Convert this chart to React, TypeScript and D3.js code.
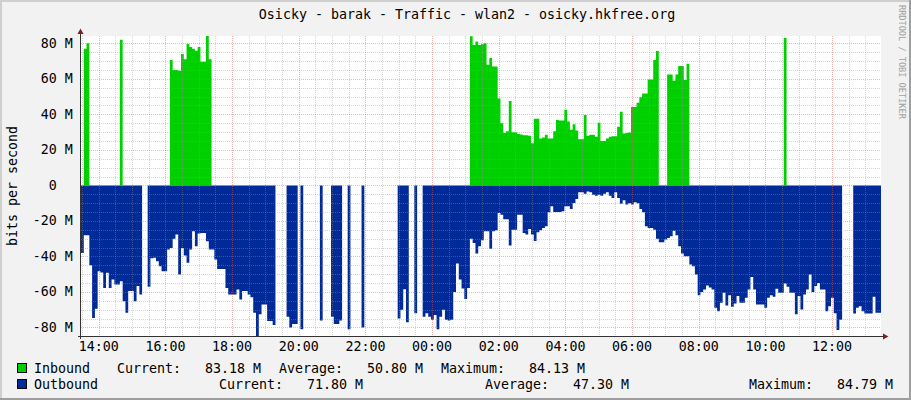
import React from "react";
import * as d3 from "d3";

// 5 minute samples, 24 h window starting 13:28
const startTime = new Date(2000, 0, 1, 13, 28);
const stepMinutes = 5;
const _ = null;

// Inbound, Mbit/s (one row = 1 hour)
const inbound: (number | null)[] = [
  _, 77, 80, _, _, _, _, _, _, _, _, _,
  _, _, 82, _, _, _, _, _, _, _, _, _,
  _, _, _, _, _, _, _, _, 70.6, 65, 65, 64.5,
  74, 71, 79.6, 78, 77, 75.8, 78, 69.7, 69.7, 84.1, 71, _,
  _, _, _, _, _, _, _, _, _, _, _, _,
  _, _, _, _, _, _, _, _, _, _, _, _,
  _, _, _, _, _, _, _, _, _, _, _, _,
  _, _, _, _, _, _, _, _, _, _, _, _,
  _, _, _, _, _, _, _, _, _, _, _, _,
  _, _, _, _, _, _, _, _, _, _, _, _,
  _, _, _, _, _, _, _, _, _, _, _, _,
  _, _, _, _, _, _, _, _, 84, 79, 81, 79,
  79.5, 80, 68, 71.7, 67, 67, 49, 35, 29.5, 30.5, 47.5, 30,
  30, 29, 28.6, 28.2, 28.2, 28, 23.7, 37.6, 37.6, 26.4, 27, 28.5,
  26.4, 26.4, 30.5, 36.9, 36.5, 36.5, 42.6, 36, 31.3, 34.5, 30.9, 26,
  26, 39.6, 28, 28.5, 28.5, 27.4, 35.3, 25, 25, 26.4, 27.4, 27.7,
  27.7, 33, 41.5, 29.3, 29.5, 29.8, 44.2, 44.2, 46.5, 49.6, 51.7, 51.7,
  59.7, 59.7, 70.6, 75.7, _, _, _, 62.4, 62.4, 59, 62.4, 67.2,
  67.2, 59.3, 68.5, _, _, _, _, _, _, _, _, _,
  _, _, _, _, _, _, _, _, _, _, _, _,
  _, _, _, _, _, _, _, _, _, _, _, _,
  _, 83, _, _, _, _, _, _, _, _, _, _,
  _, _, _, _, _, _, _, _, _, _, _, _,
  _, _, _, _, _, _, _, _, _, _, _, _,
];

// Outbound, Mbit/s (drawn below zero)
const outbound: (number | null)[] = [
  38, 28, 28, 45, 74.6, 69.5, 48.3, 49, 57.7, 49.2, 57.7, 53,
  55.8, 55.8, 54, 65.2, 71.7, 59.5, 59.5, 65.2, 56.7, 61.4, _, _,
  57, 41, 40.8, 42.7, 45.5, 48.3, 48.3, 36.1, 35.2, 30.1, 27.7, 50.2,
  35.2, 39.5, 43.6, 36.1, 25.8, 34.3, 27.1, 26.8, 26.8, 31.4, 36.1, 36.1,
  41.7, 47, 47, 47, 57.7, 61.4, 61.4, 61.4, 58.6, 64.2, 59.5, 59.5,
  61.4, 63, 71.7, 84.8, 72.6, 67, 67, 76.4, 76.4, 78.6, _, _,
  _, _, 74, 80, 78, 78, _, 81, _, _, _, _,
  _, _, 76, _, _, _, 74, 78, 78, 76, _, _,
  81, _, _, _, _, 80, _, _, _, _, _, _,
  _, _, _, _, _, _, 75, 70, 58.5, 77, _, _,
  72, _, _, 74, 72, 74, 75.6, 73, 81, 74, 70, 75.6,
  76, 75.6, 60, 44, 53, 58, 64, 57.7, 30.1, 32.4, 38.4, 34.3,
  30.9, 25.8, 25.8, 35.7, 25.8, 25.3, 15.5, 16.5, 19, 19, 33.9, 24.9,
  24.9, 16.5, 16.5, 26.8, 27.7, 24.5, 27.7, 31.3, 26.4, 25.3, 24, 23,
  15.1, 11.8, 14.9, 14.9, 14.9, 14.6, 11.8, 11.8, 13.3, 9.9, 7.7, 3.9,
  3.9, 4.7, 3.4, 3.9, 5.2, 5.8, 5.2, 5.8, 4.7, 3.9, 5.8, 7.1,
  3.9, 7.1, 10.3, 8.4, 10.8, 10, 10.8, 9.5, 10, 13.3, 15.1, 23,
  24, 24, 25, 30, 32, 32, 30.5, 29.6, 28.6, 25.5, 28, 34.3,
  38.4, 39.9, 39.9, 44.5, 45.5, 50.2, 61.9, 60, 58.6, 56.4, 57.5, 58.6,
  68.9, 70.8, 66.1, 60.5, 67.6, 61.9, 68.3, 66.5, 62.3, 66, 66.1, 63.3,
  58.6, 51.5, 58.6, 67, 67, 67, 68.9, 63.3, 61.9, 62.7, 58.2, 60.5,
  60.5, 55.2, 57.1, 60.5, 60.5, 72.6, 62.3, 69.8, 61.4, 58.6, 50.2, 60,
  56.7, 54.9, 58.6, 58.6, 70.8, 68, 63.3, 72, 81.4, 75.6, _, _,
  _, _, 72.1, 68.9, 68, 70.8, 72.1, 72.1, 72.1, 62.7, 71.7, 71.7,
];

const yDomain = [-84.79, 84.13];
const yMajorTicks = [-80, -60, -40, -20, 0, 20, 40, 60, 80];

const title = "Osicky - barak - Traffic - wlan2 - osicky.hkfree.org";
const legendNames = ["Inbound", "Outbound"];
const legendColors = ["#00CF00", "#002A97"];
const legendCurrent = ["83.18 M", "71.80 M"];
const legendAverage = ["50.80 M", "47.30 M"];
const legendMaximum = ["84.13 M", "84.79 M"];

type Pt = { t: Date; v: number | null };

// each sample becomes a flat step, nulls break the area
function toSteps(values: (number | null)[]): Pt[] {
  const pts: Pt[] = [];
  values.forEach((v, i) => {
    const t0 = d3.timeMinute.offset(startTime, i * stepMinutes);
    const t1 = d3.timeMinute.offset(startTime, (i + 1) * stepMinutes);
    if (v == null) pts.push({ t: t0, v: null });
    else pts.push({ t: t0, v }, { t: t1, v });
  });
  return pts;
}

const FONT = "'DejaVu Sans Mono', monospace";
const MINOR = "rgba(150,150,150,0.4)";
const MAJOR = "rgba(230,90,90,0.45)";

export default function App() {
  const W = 911;
  const H = 400;
  const left = 81, right = 881, top = 36, bottom = 336;

  const endTime = d3.timeMinute.offset(startTime, inbound.length * stepMinutes);
  const x = d3.scaleTime().domain([startTime, endTime]).range([left, right]);
  const y = d3.scaleLinear().domain(yDomain).range([bottom, top]);

  const areaIn = d3
    .area<Pt>()
    .defined((d) => d.v != null)
    .x((d) => x(d.t))
    .y0(y(0))
    .y1((d) => y(d.v as number));
  const areaOut = d3
    .area<Pt>()
    .defined((d) => d.v != null)
    .x((d) => x(d.t))
    .y0(y(0))
    .y1((d) => y(-(d.v as number)));

  const minorX = d3.timeMinute.every(30)!.range(startTime, endTime).filter((t) => t.getMinutes() !== 0 || t.getHours() % 2 !== 0);
  const majorX = d3.timeHour.every(2)!.range(startTime, endTime);
  const minorY = d3.range(-80, 81, 5).filter((v) => v % 20 !== 0);
  const fmt = d3.timeFormat("%H:%M");
  const px = (v: number) => Math.round(v) + 0.5;

  const legendY = [373, 389];
  const currentX = [117, 219];
  const averageX = [279, 485];
  const maximumX = [441, 749];
  const cw = 8;

  return (
    <div style={{ position: "absolute", left: 0, top: 0 }}>
      <svg width={W} height={H} style={{ display: "block" }} fontFamily={FONT}>
        <rect x={0} y={0} width={W} height={H} fill="#F2F2F2" />
        <rect x={0} y={0} width={W} height={2} fill="#CFCFCF" />
        <rect x={0} y={0} width={2} height={H} fill="#CFCFCF" />
        <rect x={0} y={H - 2} width={W} height={2} fill="#9E9E9E" />
        <rect x={W - 2} y={0} width={2} height={H} fill="#9E9E9E" />

        <rect x={left} y={top} width={right - left} height={bottom - top} fill="#FFFFFF" />

        <path d={areaIn(toSteps(inbound)) || ""} fill={legendColors[0]} />
        <path d={areaOut(toSteps(outbound)) || ""} fill={legendColors[1]} />

        {/* grid on top of the areas, like rrdtool */}
        <g strokeWidth={1} strokeDasharray="1,1" fill="none">
          {minorX.map((t, i) => (
            <line key={"mx" + i} x1={px(x(t))} x2={px(x(t))} y1={top} y2={bottom} stroke={MINOR} />
          ))}
          {minorY.map((v) => (
            <line key={"my" + v} x1={left} x2={right} y1={px(y(v))} y2={px(y(v))} stroke={MINOR} />
          ))}
          {majorX.map((t, i) => (
            <line key={"Mx" + i} x1={px(x(t))} x2={px(x(t))} y1={top} y2={bottom} stroke={MAJOR} />
          ))}
          {yMajorTicks.map((v) => (
            <line key={"My" + v} x1={left} x2={right} y1={px(y(v))} y2={px(y(v))} stroke={MAJOR} />
          ))}
        </g>

        {/* axes and arrows */}
        <line x1={78} x2={884} y1={bottom + 0.5} y2={bottom + 0.5} stroke="#333" />
        <line x1={80.5} x2={80.5} y1={33} y2={bottom + 3} stroke="#333" />
        <polygon points={`77.5,34 83.5,34 80.5,28.5`} fill="#801F1F" />
        <polygon points={`883,333.5 883,339.5 888.5,336.5`} fill="#801F1F" />

        {/* y labels */}
        <g fontSize={13.3} fill="#000" textAnchor="end">
          {yMajorTicks.map((v) => (
            <text key={v} x={v === 0 ? 72.7 - 2 * cw : 72.7} y={y(v) + 4.5}>
              {v === 0 ? "0" : `${v} M`}
            </text>
          ))}
        </g>

        {/* x labels */}
        <g fontSize={13.3} fill="#000" textAnchor="middle">
          {majorX.map((t, i) => (
            <text key={i} x={x(t)} y={351}>
              {fmt(t)}
            </text>
          ))}
        </g>

        <text x={467} y={19} fontSize={13.3} textAnchor="middle" fill="#000">
          {title}
        </text>
        <text transform="translate(16.5,186) rotate(-90)" fontSize={13.3} textAnchor="middle" fill="#000">
          bits per second
        </text>
        <text transform="translate(899,5) rotate(90)" fontSize={8.6} fill="#A0A0A0">
          RRDTOOL / TOBI OETIKER
        </text>

        {/* legend */}
        <g fontSize={13.3} fill="#000">
          {legendNames.map((name, i) => (
            <g key={name}>
              <rect x={17.5} y={legendY[i] - 9.5} width={9} height={9} fill={legendColors[i]} stroke="#000" />
              <text x={34} y={legendY[i]}>{name}</text>
              <text x={currentX[i]} y={legendY[i]}>Current:</text>
              <text x={currentX[i] + 11 * cw} y={legendY[i]}>{legendCurrent[i]}</text>
              <text x={averageX[i]} y={legendY[i]}>Average:</text>
              <text x={averageX[i] + 11 * cw} y={legendY[i]}>{legendAverage[i]}</text>
              <text x={maximumX[i]} y={legendY[i]}>Maximum:</text>
              <text x={maximumX[i] + 11 * cw} y={legendY[i]}>{legendMaximum[i]}</text>
            </g>
          ))}
        </g>
      </svg>
    </div>
  );
}
